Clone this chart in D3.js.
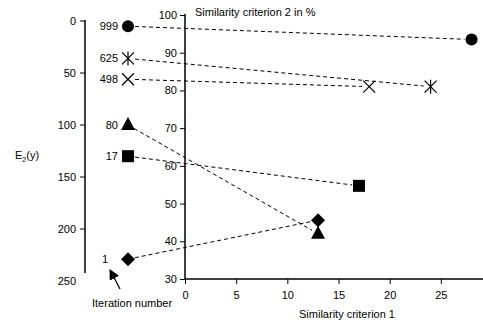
<!DOCTYPE html>
<html><head><meta charset="utf-8">
<script src="https://cdn.jsdelivr.net/npm/d3@7"></script>
<style>body{margin:0;background:#fff}text{font-family:"Liberation Sans",Arial,sans-serif;fill:#000}</style>
</head><body>
<svg id="c" width="483" height="327"></svg>
<script>
// Data
const iterations = ["999", "625", "498", "80", "17", "1"];
const e2Values = [5, 36, 56, 100, 130, 229];
const crit1 = [28, 24, 18, 13, 17, 13];
const crit2 = [93.5, 81, 81, 42, 54.7, 45.6];
const markers = ["circle", "asterisk", "cross", "triangle", "square", "diamond"];
const leftTicks = [0, 50, 100, 150, 200, 250];
const rightYTicks = [30, 40, 50, 60, 70, 80, 90, 100];
const xTicks = [0, 5, 10, 15, 20, 25];

const svg = d3.select("#c");
const yL = d3.scaleLinear().domain([0, 250]).range([21, 281]);
const yR = d3.scaleLinear().domain([30, 100]).range([279, 15]);
const xR = d3.scaleLinear().domain([0, 30]).range([185, 492]);
const markX = 128;

// Left axis
const gL = svg.append("g");
gL.append("line").attr("x1", 85).attr("x2", 85).attr("y1", yL(0) - 1).attr("y2", 273).attr("stroke", "#000").attr("stroke-width", 1.5);
gL.selectAll(".lt").data(leftTicks).join("g").each(function(d) {
  const g = d3.select(this);
  if (d < 250) g.append("line").attr("x1", 80).attr("x2", 85).attr("y1", yL(d)).attr("y2", yL(d)).attr("stroke", "#000");
  g.append("text").attr("x", 76).attr("y", yL(d) + 4).attr("text-anchor", "end").attr("font-size", 11).text(d);
});
const e2 = svg.append("text").attr("x", 15).attr("y", 159).attr("font-size", 11);
e2.append("tspan").text("E");
e2.append("tspan").attr("font-size", 7).attr("dy", 3).text("2");
e2.append("tspan").attr("dy", -3).text("(y)");

// Right axes
const gY = svg.append("g").attr("transform", "translate(185,0)")
  .call(d3.axisLeft(yR).tickValues(rightYTicks).tickSize(5).tickSizeOuter(0));
const gX = svg.append("g").attr("transform", "translate(0,279)")
  .call(d3.axisBottom(xR).tickValues(xTicks).tickSize(5).tickSizeOuter(0));
[gY, gX].forEach(g => {
  g.selectAll("text").attr("font-size", 11).attr("font-family", "Liberation Sans, Arial, sans-serif");
  g.select(".domain").attr("stroke-width", 1.5);
});
gY.select(".domain").attr("d", `M0,${yR(100) - 1}V${yR(30)}`);
gX.select(".domain").attr("d", `M185,0H483`);
gY.selectAll(".tick text").attr("x", -8);
gX.selectAll(".tick text").attr("y", 12);
gX.selectAll(".tick").filter(d => d === 0).select("text").attr("dx", 0);

svg.append("text").attr("x", 195).attr("y", 16).attr("font-size", 11).text("Similarity criterion 2 in %");
svg.append("text").attr("x", 347).attr("y", 318).attr("text-anchor", "middle").attr("font-size", 11).text("Similarity criterion 1");
svg.append("text").attr("x", 92).attr("y", 307).attr("font-size", 11).text("Iteration number");

// Arrow
svg.append("defs").append("marker").attr("id", "ah").attr("viewBox", "0 0 10 10")
  .attr("refX", 9).attr("refY", 5).attr("markerWidth", 8).attr("markerHeight", 8).attr("orient", "auto")
  .append("path").attr("d", "M0,0L10,5L0,10z").attr("fill", "#000");
svg.append("line").attr("x1", 120).attr("y1", 289).attr("x2", 110).attr("y2", 270)
  .attr("stroke", "#000").attr("stroke-width", 1.3).attr("marker-end", "url(#ah)");

// Dashed connectors
const pts = iterations.map((it, i) => ({it, i, lx: markX, ly: yL(e2Values[i]), rx: xR(crit1[i]), ry: yR(crit2[i]), m: markers[i]}));
svg.selectAll(".conn").data(pts).join("line")
  .each(function(p) {
    const dx = p.rx - p.lx, dy = p.ry - p.ly, L = Math.hypot(dx, dy);
    const s = 7 / L;
    d3.select(this).attr("x1", p.lx + dx * s).attr("y1", p.ly + dy * s)
      .attr("x2", p.rx - dx * s).attr("y2", p.ry - dy * s);
  })
  .attr("stroke", "#000").attr("stroke-width", 1).attr("stroke-dasharray", "4,3");

// Labels
svg.selectAll(".lab").data(pts).join("text")
  .attr("x", p => p.it === "1" ? 108 : 118).attr("y", p => p.ly + 4)
  .attr("text-anchor", "end").attr("font-size", 11).text(p => p.it);

function drawMarker(g, type, x, y) {
  const k = g.append("g").attr("transform", `translate(${x},${y})`);
  if (type === "circle") k.append("circle").attr("r", 6).attr("fill", "#000");
  else if (type === "square") k.append("rect").attr("x", -6).attr("y", -6).attr("width", 12).attr("height", 12).attr("fill", "#000");
  else if (type === "triangle") k.append("path").attr("d", "M0,-8L7,5L-7,5Z").attr("fill", "#000");
  else if (type === "diamond") k.append("path").attr("d", "M0,-7L7,0L0,7L-7,0Z").attr("fill", "#000");
  else if (type === "cross" || type === "asterisk") {
    k.append("path").attr("d", "M-6,-6L6,6M-6,6L6,-6" + (type === "asterisk" ? "M0,-7L0,7" : "")).attr("stroke", "#000").attr("stroke-width", 1.2).attr("fill", "none");
  }
}
pts.forEach(p => { drawMarker(svg, p.m, p.lx, p.ly); drawMarker(svg, p.m, p.rx, p.ry); });
</script>
</body></html>
